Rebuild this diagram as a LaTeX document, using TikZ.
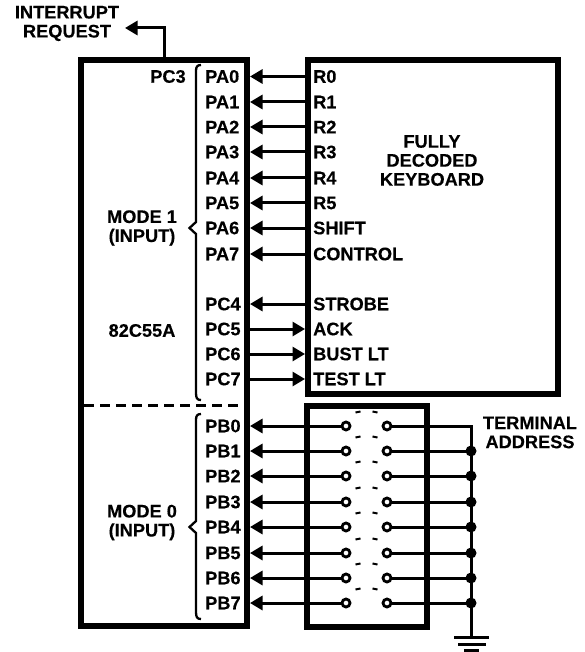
\documentclass[tikz,border=0pt]{standalone}
\usepackage{fontspec}
\setmainfont{Liberation Sans}[BoldFont={Liberation Sans Bold},BoldFeatures={FakeBold=0.3}]
\usetikzlibrary{arrows.meta}
\tikzset{
  x=1pt,y=-1pt,
  boxline/.style={draw=black,line width=6pt,fill=none,miter limit=10},
  wire/.style={draw=black,line width=3pt},
  arrowin/.style={wire,-{Triangle[length=12.5pt,width=14pt]}},
  lab/.style={font=\fontsize{18.2}{19}\selectfont\bfseries,inner sep=0pt,align=center},
  pin/.style={lab,anchor=west},
  contact/.style={circle,draw=black,line width=2.8pt,fill=white,minimum size=8pt,inner sep=0pt},
  junction/.style={circle,fill=black,minimum size=11pt,inner sep=0pt},
  bracket/.style={draw=black,line width=2.3pt},
  swdash/.style={draw=black,line width=2pt}
}
\begin{document}
\begin{tikzpicture}
\useasboundingbox (0,0) rectangle (585,652);
% boxes
\draw[boxline] (81,60) rectangle (247,626);
\draw[boxline] (307.5,60) rectangle (557.5,394);
\draw[boxline] (307,406) rectangle (427,626.5);
\draw[line width=3pt,dash pattern=on 10pt off 6pt] (84,405) -- (245,405);
% interrupt
\coordinate (irqtop) at (164,57);
\coordinate (irqbend) at (164,28);
\coordinate (irqtip) at (125,28);
\draw[wire,-{Triangle[length=12.5pt,width=14pt]}] (irqtop) -- (irqbend) -- (irqtip);
\node[lab] (irq) at (67,23.5) {INTERRUPT\\REQUEST};
% brackets
\draw[bracket] (201,65) .. controls (197,65) and (196,67) .. (196,71) -- (196,222) -- (189.5,228) -- (196,234) -- (196,393) .. controls (196,398) and (197,400) .. (201,400);
\draw[bracket] (201,414) .. controls (197,414) and (196,416) .. (196,420) -- (196,521) -- (189.5,527) -- (196,533) -- (196,612) .. controls (196,617) and (197,619) .. (201,619);
% side labels
\node[lab] (pc3) at (168,76.5) {PC3};
\node[lab] (mode1) at (142,228) {MODE 1\\(INPUT)};
\node[lab] (chip) at (142,330.5) {82C55A};
\node[lab] (mode0) at (142,522.5) {MODE 0\\(INPUT)};
\node[lab] (kbd) at (432,160.5) {FULLY\\DECODED\\KEYBOARD};
\node[lab] (taddr) at (530,432.5) {TERMINAL\\ADDRESS};
% keyboard side: inputs
\foreach \n/\pa/\r/\yy in {0/PA0/R0/76.5,1/PA1/R1/102,2/PA2/R2/127,3/PA3/R3/152,4/PA4/R4/178,5/PA5/R5/203,6/PA6/SHIFT/228,7/PA7/CONTROL/254,8/PC4/STROBE/304}{
  \node[pin] (p\n) at (205,\yy) {\pa};
  \node[pin] (k\n) at (313,\yy) {\r};
  \coordinate (ke\n) at (307,\yy);
  \coordinate (pe\n) at (250,\yy);
  \draw[arrowin] (ke\n) -- (pe\n);
}
% keyboard side: outputs
\foreach \n/\pa/\r/\yy in {9/PC5/ACK/329,10/PC6/BUST LT/354,11/PC7/TEST LT/379}{
  \node[pin] (p\n) at (205,\yy) {\pa};
  \node[pin] (k\n) at (313,\yy) {\r};
  \coordinate (ke\n) at (305,\yy);
  \coordinate (pe\n) at (247,\yy);
  \draw[arrowin] (pe\n) -- (ke\n);
}
% switches
\coordinate (gnd) at (471,637);
\foreach \n/\yy in {0/426,1/451,2/476,3/502,4/527,5/553,6/578,7/603}{
  \node[pin] (b\n) at (205,\yy) {PB\n};
  \coordinate (be\n) at (250,\yy);
  \node[contact] (sl\n) at (346,\yy) {};
  \node[contact] (sr\n) at (387,\yy) {};
  \coordinate (bus\n) at (471,\yy);
  \draw[arrowin] (sl\n) -- (be\n);
  \draw[wire] (sr\n) -- (bus\n);
  \draw[swdash] (355.5,\yy-13.5) -- (360.5,\yy-14.5);
  \draw[swdash] (372.5,\yy-14.5) -- (377.5,\yy-13.5);
}
\foreach \n in {1,...,7}{\node[junction] (j\n) at (bus\n) {};}
\draw[wire,line join=miter] (sr0) -- (bus0) -- (gnd);
\draw[wire] (454,637) -- (489,637);
\draw[wire] (458,644) -- (486,644);
\draw[wire] (464,650.5) -- (479,650.5);
\end{tikzpicture}
\end{document}
